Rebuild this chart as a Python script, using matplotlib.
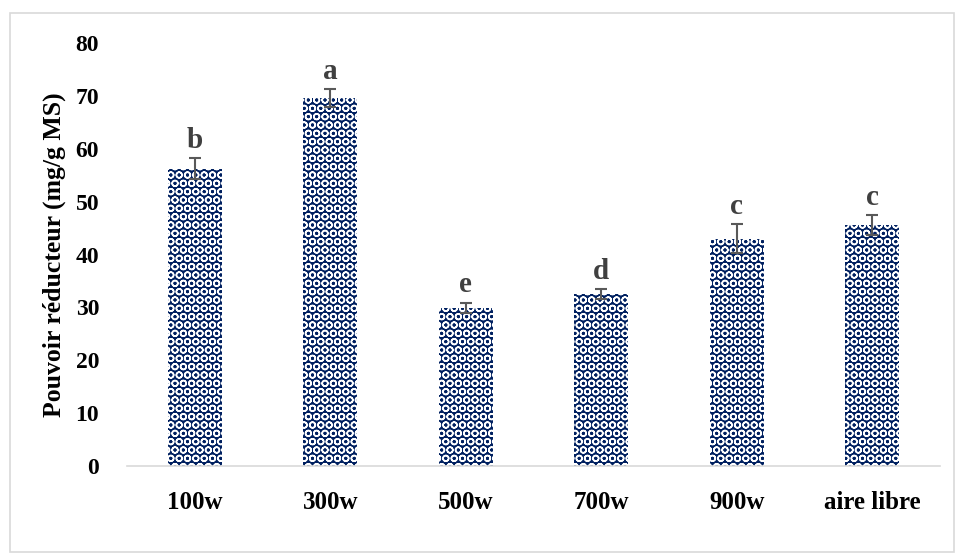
import matplotlib.pyplot as plt
import matplotlib.patches as mpatches

categories = ["100w", "300w", "500w", "700w", "900w", "aire libre"]
values = [56.2, 69.6, 29.9, 32.5, 43.0, 45.6]
errors = [2.0, 1.7, 1.0, 1.0, 2.8, 1.9]
letters = ["b", "a", "e", "d", "c", "c"]

plt.rcParams['font.family'] = ['Liberation Serif', 'DejaVu Serif']
plt.rcParams['font.weight'] = 'bold'
plt.rcParams['hatch.linewidth'] = 1.1

fig = plt.figure(figsize=(9.56, 5.53), dpi=100)
ax = fig.add_axes([0.1328, 0.1573, 0.8504, 0.7649])

navy = "#002060"
x = range(len(categories))
ax.bar(x, values, width=0.4, color=navy, edgecolor="white", linewidth=0, hatch="OO")
ax.errorbar(x, values, yerr=errors, fmt="none", ecolor="#595959", elinewidth=1.5,
            capsize=4.5, capthick=1.5)

for xi, v, e, lab in zip(x, values, errors, letters):
    ax.annotate(lab, (xi, v + e), xytext=(0, 3), textcoords="offset points",
                ha="center", va="bottom", fontsize=21, fontweight="bold", color="#404040")

ax.set_xlim(-0.5, len(categories) - 0.5)
ax.set_ylim(0, 80)
ax.set_yticks(range(0, 81, 10))
ax.set_xticks(list(x))
ax.set_xticklabels(categories)
ax.tick_params(axis="y", length=0, labelsize=17, pad=20)
ax.tick_params(axis="x", length=0, labelsize=18, pad=18)
for s in ["top", "right", "left"]:
    ax.spines[s].set_visible(False)
ax.spines["bottom"].set_color("#d9d9d9")
ax.spines["bottom"].set_linewidth(1.2)

ax.set_ylabel("Pouvoir réducteur (mg/g MS)", fontsize=18.5, fontweight="bold", labelpad=7)

fig.patches.append(mpatches.Rectangle((10 / 956, 0.002), 944 / 956, 1 - 12.5 / 553 - 0.002,
                                      transform=fig.transFigure, fill=False,
                                      edgecolor="#d9d9d9", linewidth=1.2))

fig.savefig("out.png", dpi=100)
